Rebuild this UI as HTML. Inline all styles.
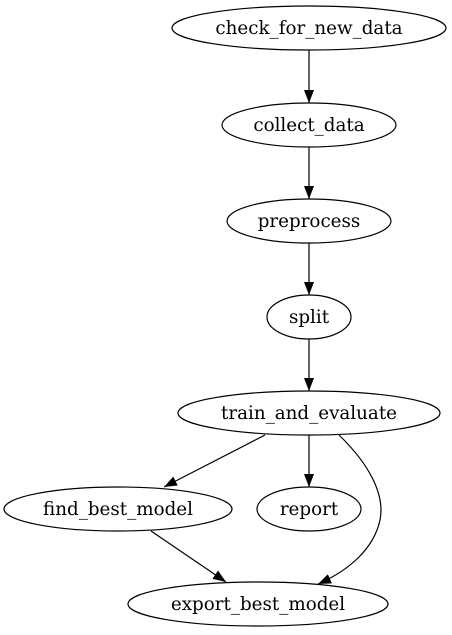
<!DOCTYPE html>
<html><head><style>html,body{margin:0;padding:0;background:#fff}svg{display:block}</style></head>
<body>
<svg width="452" height="635" viewBox="0 0 452 635" xmlns="http://www.w3.org/2000/svg">
<defs><marker id="a" markerWidth="13" markerHeight="10" refX="13" refY="5" orient="auto" markerUnits="userSpaceOnUse"><path d="M0,0 L13,5 L0,10 z" fill="#000"/></marker></defs>
<g fill="none" stroke="#000" stroke-width="1.2">
<ellipse cx="309" cy="28" rx="137" ry="22"/>
<ellipse cx="309" cy="125" rx="87" ry="22"/>
<ellipse cx="309" cy="221" rx="82" ry="22"/>
<ellipse cx="309" cy="317" rx="42" ry="22"/>
<ellipse cx="309" cy="413" rx="131" ry="22"/>
<ellipse cx="118" cy="509" rx="114" ry="22"/>
<ellipse cx="309" cy="509" rx="52" ry="22"/>
<ellipse cx="258" cy="604" rx="130" ry="22"/>
<line x1="309" y1="50" x2="309" y2="103" marker-end="url(#a)"/>
<line x1="309" y1="147" x2="309" y2="199" marker-end="url(#a)"/>
<line x1="309" y1="243" x2="309" y2="295" marker-end="url(#a)"/>
<line x1="309" y1="339" x2="309" y2="391" marker-end="url(#a)"/>
<line x1="309" y1="435" x2="309" y2="487" marker-end="url(#a)"/>
<line x1="265" y1="435" x2="164" y2="487" marker-end="url(#a)"/>
<line x1="151" y1="531" x2="226" y2="582" marker-end="url(#a)"/>
<path d="M339,435 C370,465 385,495 380,520 C374,548 350,570 318,584" marker-end="url(#a)"/>
</g>
<g font-family="DejaVu Serif, serif" font-size="18.3" text-anchor="middle" fill="#000">
<text x="309" y="34">check_for_new_data</text>
<text x="309" y="131">collect_data</text>
<text x="309" y="227">preprocess</text>
<text x="309" y="323">split</text>
<text x="309" y="419">train_and_evaluate</text>
<text x="118" y="515">find_best_model</text>
<text x="309" y="515">report</text>
<text x="258" y="610">export_best_model</text>
</g>
</svg>
</body></html>
